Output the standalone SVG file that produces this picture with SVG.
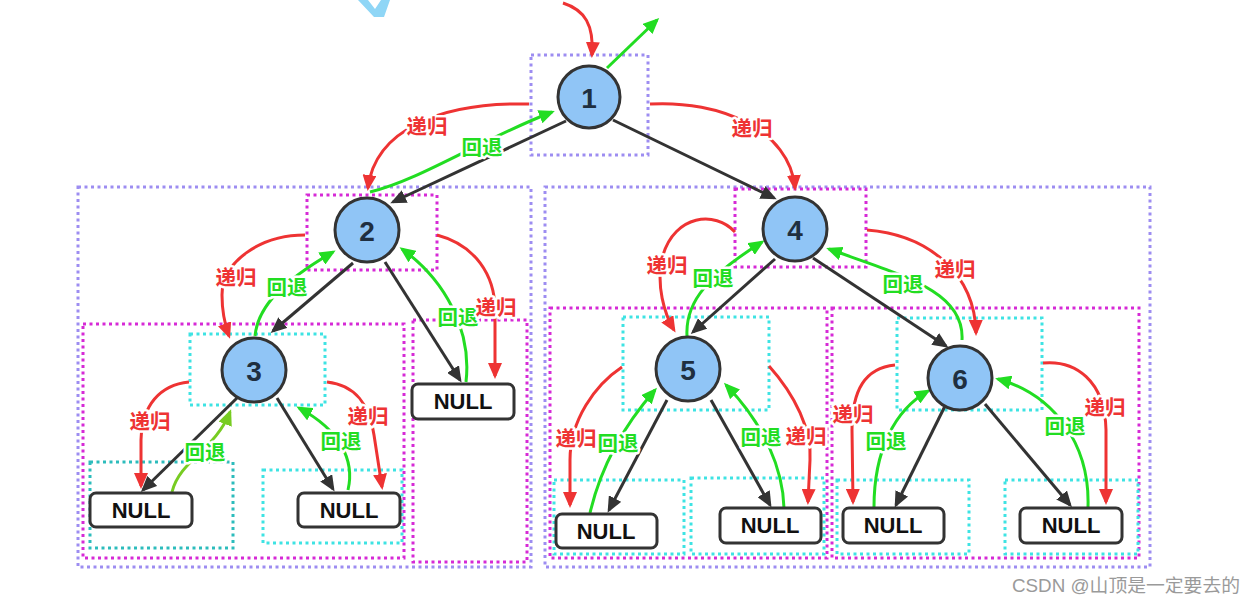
<svg xmlns="http://www.w3.org/2000/svg" width="1257" height="607" viewBox="0 0 1257 607">
<style>
.bg{fill:#fff}
.fp{fill:none;stroke:#9d8df1;stroke-width:3;stroke-dasharray:3 3.5}
.fm{fill:none;stroke:#d62ad6;stroke-width:3;stroke-dasharray:3 3.5}
.fc{fill:none;stroke:#3ee3e3;stroke-width:3;stroke-dasharray:3 3.5}
.ft{fill:none;stroke:#2cbcbc;stroke-width:3;stroke-dasharray:3 3.5}
.node circle{fill:#90c5f6;stroke:#333;stroke-width:3}
.node text{font-family:"Liberation Sans",Arial,sans-serif;font-weight:bold;font-size:28px;fill:#1f2f40;text-anchor:middle;dominant-baseline:central}
.null rect{fill:#fff;stroke:#333;stroke-width:3}
.null text{font-family:"Liberation Sans",Arial,sans-serif;font-weight:bold;font-size:22px;fill:#111;text-anchor:middle;dominant-baseline:central}
.e{fill:none;stroke:#333;stroke-width:3;marker-end:url(#ak)}
.r{fill:none;stroke:#ee3333;stroke-width:3;marker-end:url(#ar)}
.g{fill:none;stroke:#22dd22;stroke-width:3;marker-end:url(#ag)}
.gy{fill:none;stroke:#77cc22;stroke-width:3;marker-end:url(#agy)}
.lbl{font-family:"Noto Sans CJK SC",sans-serif;font-size:20.5px;font-weight:bold;text-anchor:middle;dominant-baseline:central;paint-order:stroke;stroke:#fff;stroke-width:5px;stroke-linejoin:round}
.lr{fill:#ee3333}
.lg{fill:#22dd22}
</style>
<defs>
<marker id="ak" viewBox="0 0 16 14" refX="13" refY="7" markerWidth="16" markerHeight="14" markerUnits="userSpaceOnUse" orient="auto"><path d="M0,0 L16,7 L0,14 z" fill="#333"/></marker>
<marker id="ar" viewBox="0 0 16 14" refX="13" refY="7" markerWidth="16" markerHeight="14" markerUnits="userSpaceOnUse" orient="auto"><path d="M0,0 L16,7 L0,14 z" fill="#ee3333"/></marker>
<marker id="ag" viewBox="0 0 16 14" refX="13" refY="7" markerWidth="16" markerHeight="14" markerUnits="userSpaceOnUse" orient="auto"><path d="M0,0 L16,7 L0,14 z" fill="#22dd22"/></marker>
<marker id="agy" viewBox="0 0 16 14" refX="13" refY="7" markerWidth="16" markerHeight="14" markerUnits="userSpaceOnUse" orient="auto"><path d="M0,0 L16,7 L0,14 z" fill="#77cc22"/></marker>
</defs>
<rect class="bg" x="0" y="0" width="1257" height="607"/>
<polygon points="358,0 368,0 375,9 381,0 390,0 384,17 374,17" fill="#8fd6f6"/>
<g id="frames">
<rect class="fp" x="531" y="55" width="117" height="100"/>
<rect class="fp" x="78" y="187" width="453" height="380"/>
<rect class="fp" x="545" y="187" width="605" height="380"/>
<rect class="fm" x="307" y="195" width="130" height="75"/>
<rect class="fm" x="83" y="324" width="321" height="234"/>
<rect class="fm" x="413" y="320" width="114" height="242"/>
<rect class="fm" x="735" y="189" width="131" height="78"/>
<rect class="fm" x="550" y="308" width="277" height="250"/>
<rect class="fm" x="832" y="308" width="307" height="250"/>
<rect class="fc" x="190" y="334" width="135" height="71"/>
<rect class="ft" x="90" y="462" width="143" height="86"/>
<rect class="fc" x="263" y="470" width="139" height="73"/>
<rect class="fc" x="623" y="317" width="146" height="93"/>
<rect class="fc" x="897" y="318" width="145" height="92"/>
<rect class="fc" x="554" y="480" width="130" height="74"/>
<rect class="fc" x="691" y="478" width="133" height="76"/>
<rect class="fc" x="837" y="480" width="132" height="74"/>
<rect class="fc" x="1005" y="480" width="133" height="74"/>
</g>
<g id="connectors">
<path class="e" d="M566 121 L393 202"/>
<path class="e" d="M613 120 L774 198"/>
<path class="e" d="M353 263 L273 331"/>
<path class="e" d="M385 262 L460 380"/>
<path class="e" d="M237 398 L143 490"/>
<path class="e" d="M277 398 L333 489"/>
<path class="e" d="M775 259 L693 332"/>
<path class="e" d="M813 258 L946 346"/>
<path class="e" d="M667 400 L609 510"/>
<path class="e" d="M711 400 L770 505"/>
<path class="e" d="M945 406 L896 505"/>
<path class="e" d="M985 404 L1070 505"/>
<path class="r" d="M563 3 C585 10 594 25 592 55"/>
<path class="g" d="M607 68 L657 20"/>
<path class="r" d="M529 104 C440 102 375 130 368 188"/>
<path class="g" d="M370 192 C420 180 480 140 552 112"/>
<path class="r" d="M650 104 C720 100 790 130 795 188"/>
<path class="r" d="M305 235 C260 235 222 262 222 295 C222 312 225 325 229 336"/>
<path class="g" d="M255 336 C258 305 285 280 333 252"/>
<path class="g" d="M466 382 C472 330 445 280 402 249"/>
<path class="r" d="M437 235 C475 245 495 275 495 310 L495 376"/>
<path class="r" d="M189 382 C160 385 142 405 141 440 L141 486"/>
<path class="gy" d="M172 492 C180 460 215 450 230 412"/>
<path class="r" d="M327 382 C355 385 370 405 374 435 L382 487"/>
<path class="g" d="M348 490 C355 460 340 430 299 408"/>
<path class="r" d="M735 232 C715 210 675 215 663 255 C655 285 665 315 674 330"/>
<path class="g" d="M687 336 C685 300 710 275 762 242"/>
<path class="r" d="M867 230 C930 235 975 275 976 333"/>
<path class="g" d="M962 340 C965 290 900 275 829 249"/>
<path class="r" d="M622 367 C595 385 570 420 570 460 L570 505"/>
<path class="g" d="M590 513 C600 470 620 430 655 390"/>
<path class="g" d="M784 508 C783 470 765 425 726 385"/>
<path class="r" d="M769 366 C795 395 812 430 810 460 L808 502"/>
<path class="r" d="M895 365 C865 368 852 390 852 430 L853 502"/>
<path class="g" d="M874 507 C874 450 895 410 928 391"/>
<path class="g" d="M1088 507 C1090 445 1055 395 998 379"/>
<path class="r" d="M1043 363 C1075 360 1105 380 1106 430 L1106 502"/>
<text class="lbl lr" x="427" y="125">递归</text>
<text class="lbl lg" x="482" y="146">回退</text>
<text class="lbl lr" x="752" y="127">递归</text>
<text class="lbl lr" x="236" y="276">递归</text>
<text class="lbl lg" x="287" y="286">回退</text>
<text class="lbl lg" x="458" y="316">回退</text>
<text class="lbl lr" x="496" y="306">递归</text>
<text class="lbl lr" x="150" y="420">递归</text>
<text class="lbl lg" x="205" y="451">回退</text>
<text class="lbl lr" x="368" y="415">递归</text>
<text class="lbl lg" x="341" y="440">回退</text>
<text class="lbl lr" x="667" y="264">递归</text>
<text class="lbl lg" x="713" y="277">回退</text>
<text class="lbl lr" x="955" y="268">递归</text>
<text class="lbl lg" x="903" y="283">回退</text>
<text class="lbl lr" x="576" y="437">递归</text>
<text class="lbl lg" x="618" y="442">回退</text>
<text class="lbl lg" x="761" y="436">回退</text>
<text class="lbl lr" x="806" y="435">递归</text>
<text class="lbl lr" x="853" y="413">递归</text>
<text class="lbl lg" x="886" y="440">回退</text>
<text class="lbl lg" x="1065" y="425">回退</text>
<text class="lbl lr" x="1105" y="406">递归</text>
</g>
<g id="n1" class="node"><circle cx="589" cy="97" r="31"/><text x="589" y="98">1</text></g>
<g id="n2" class="node"><circle cx="367" cy="230" r="32"/><text x="367" y="231">2</text></g>
<g id="n3" class="node"><circle cx="254" cy="370" r="32"/><text x="254" y="371">3</text></g>
<g id="n4" class="node"><circle cx="795" cy="229" r="32"/><text x="795" y="230">4</text></g>
<g id="n5" class="node"><circle cx="688" cy="369" r="32"/><text x="688" y="370">5</text></g>
<g id="n6" class="node"><circle cx="960" cy="378" r="32"/><text x="960" y="379">6</text></g>
<g id="null3l" class="null"><rect x="90" y="493" width="102" height="34" rx="6"/><text x="141" y="510">NULL</text></g>
<g id="null3r" class="null"><rect x="298" y="493" width="102" height="34" rx="6"/><text x="349" y="510">NULL</text></g>
<g id="null2r" class="null"><rect x="412" y="384" width="102" height="35" rx="6"/><text x="463" y="401">NULL</text></g>
<g id="null5l" class="null"><rect x="556" y="514" width="101" height="34" rx="6"/><text x="606" y="531">NULL</text></g>
<g id="null5r" class="null"><rect x="720" y="508" width="101" height="35" rx="6"/><text x="770" y="525">NULL</text></g>
<g id="null6l" class="null"><rect x="843" y="508" width="101" height="35" rx="6"/><text x="893" y="525">NULL</text></g>
<g id="null6r" class="null"><rect x="1020" y="508" width="102" height="35" rx="6"/><text x="1071" y="525">NULL</text></g>
<text x="1012" y="592" font-family="'Liberation Sans','Noto Sans CJK SC',sans-serif" font-size="18" fill="#9a9a9a" textLength="228" lengthAdjust="spacingAndGlyphs">CSDN @山顶是一定要去的</text>
</svg>
